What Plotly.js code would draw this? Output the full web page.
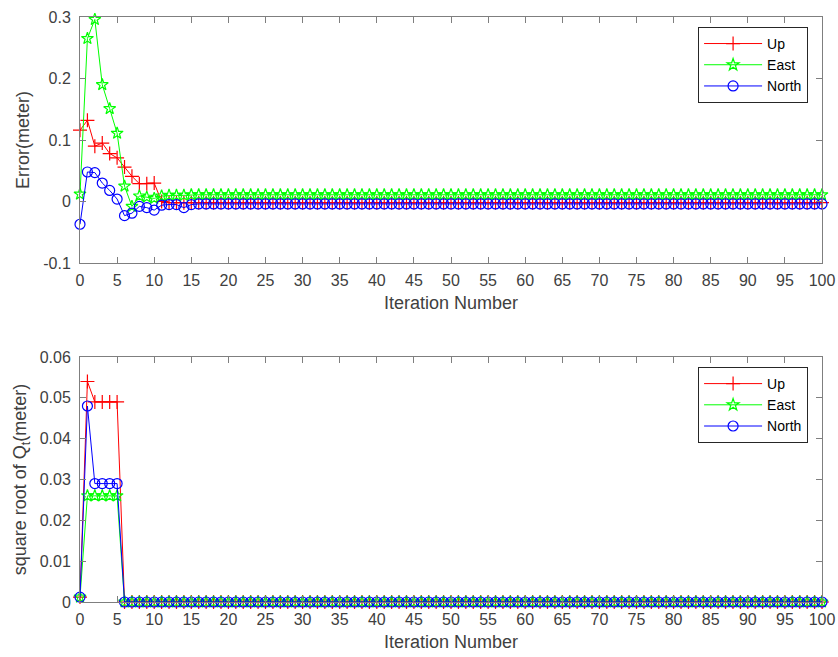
<!DOCTYPE html>
<html>
<head>
<meta charset="utf-8">
<script src="https://cdn.plot.ly/plotly-3.0.1.min.js"></script>
<style>html,body{margin:0;padding:0;background:#fff;}#chart{width:838px;height:657px;}</style>
</head>
<body>
<div id="chart"></div>
<script>
// Iteration numbers 0..100
var iterations = [0,1,2,3,4,5,6,7,8,9,10,11,12,13,14,15,16,17,18,19,20,21,22,23,24,25,26,27,28,29,30,31,32,33,34,35,36,37,38,39,40,41,42,43,44,45,46,47,48,49,50,51,52,53,54,55,56,57,58,59,60,61,62,63,64,65,66,67,68,69,70,71,72,73,74,75,76,77,78,79,80,81,82,83,84,85,86,87,88,89,90,91,92,93,94,95,96,97,98,99,100];

// Top panel: Error (meter)
var errUp = [0.116,0.132,0.090,0.095,0.078,0.071,0.056,0.041,0.029,0.029,0.030,0.000,-0.002,-0.002,-0.002,-0.002,-0.002,-0.002,-0.002,-0.002,-0.002,-0.002,-0.002,-0.002,-0.002,-0.002,-0.002,-0.002,-0.002,-0.002,-0.002,-0.002,-0.002,-0.002,-0.002,-0.002,-0.002,-0.002,-0.002,-0.002,-0.002,-0.002,-0.002,-0.002,-0.002,-0.002,-0.002,-0.002,-0.002,-0.002,-0.002,-0.002,-0.002,-0.002,-0.002,-0.002,-0.002,-0.002,-0.002,-0.002,-0.002,-0.002,-0.002,-0.002,-0.002,-0.002,-0.002,-0.002,-0.002,-0.002,-0.002,-0.002,-0.002,-0.002,-0.002,-0.002,-0.002,-0.002,-0.002,-0.002,-0.002,-0.002,-0.002,-0.002,-0.002,-0.002,-0.002,-0.002,-0.002,-0.002,-0.002,-0.002,-0.002,-0.002,-0.002,-0.002,-0.002,-0.002,-0.002,-0.002,-0.002];
var errEast = [0.012,0.265,0.296,0.190,0.151,0.111,0.025,-0.008,0.009,0.007,0.005,0.009,0.010,0.010,0.010,0.011,0.011,0.011,0.011,0.011,0.011,0.011,0.011,0.011,0.011,0.011,0.011,0.011,0.011,0.011,0.011,0.011,0.011,0.011,0.011,0.011,0.011,0.011,0.011,0.011,0.011,0.011,0.011,0.011,0.011,0.011,0.011,0.011,0.011,0.011,0.011,0.011,0.011,0.011,0.011,0.011,0.011,0.011,0.011,0.011,0.011,0.011,0.011,0.011,0.011,0.011,0.011,0.011,0.011,0.011,0.011,0.011,0.011,0.011,0.011,0.011,0.011,0.011,0.011,0.011,0.011,0.011,0.011,0.011,0.011,0.011,0.011,0.011,0.011,0.011,0.011,0.011,0.011,0.011,0.011,0.011,0.011,0.011,0.011,0.011,0.011];
var errNorth = [-0.037,0.048,0.047,0.030,0.018,0.004,-0.023,-0.019,-0.008,-0.010,-0.014,-0.006,-0.005,-0.005,-0.010,-0.005,-0.004,-0.004,-0.004,-0.004,-0.004,-0.004,-0.004,-0.004,-0.004,-0.004,-0.004,-0.004,-0.004,-0.004,-0.004,-0.004,-0.004,-0.004,-0.004,-0.004,-0.004,-0.004,-0.004,-0.004,-0.004,-0.004,-0.004,-0.004,-0.004,-0.004,-0.004,-0.004,-0.004,-0.004,-0.004,-0.004,-0.004,-0.004,-0.004,-0.004,-0.004,-0.004,-0.004,-0.004,-0.004,-0.004,-0.004,-0.004,-0.004,-0.004,-0.004,-0.004,-0.004,-0.004,-0.004,-0.004,-0.004,-0.004,-0.004,-0.004,-0.004,-0.004,-0.004,-0.004,-0.004,-0.004,-0.004,-0.004,-0.004,-0.004,-0.004,-0.004,-0.004,-0.004,-0.004,-0.004,-0.004,-0.004,-0.004,-0.004,-0.004,-0.004,-0.004,-0.004,-0.004];

// Bottom panel: square root of Q_t (meter)
var qUp = [0.0012,0.054,0.049,0.049,0.049,0.049,0,0,0,0,0,0,0,0,0,0,0,0,0,0,0,0,0,0,0,0,0,0,0,0,0,0,0,0,0,0,0,0,0,0,0,0,0,0,0,0,0,0,0,0,0,0,0,0,0,0,0,0,0,0,0,0,0,0,0,0,0,0,0,0,0,0,0,0,0,0,0,0,0,0,0,0,0,0,0,0,0,0,0,0,0,0,0,0,0,0,0,0,0,0,0];
var qEast = [0.0012,0.026,0.026,0.026,0.026,0.026,0,0,0,0,0,0,0,0,0,0,0,0,0,0,0,0,0,0,0,0,0,0,0,0,0,0,0,0,0,0,0,0,0,0,0,0,0,0,0,0,0,0,0,0,0,0,0,0,0,0,0,0,0,0,0,0,0,0,0,0,0,0,0,0,0,0,0,0,0,0,0,0,0,0,0,0,0,0,0,0,0,0,0,0,0,0,0,0,0,0,0,0,0,0,0];
var qNorth = [0.0012,0.048,0.029,0.029,0.029,0.029,0,0,0,0,0,0,0,0,0,0,0,0,0,0,0,0,0,0,0,0,0,0,0,0,0,0,0,0,0,0,0,0,0,0,0,0,0,0,0,0,0,0,0,0,0,0,0,0,0,0,0,0,0,0,0,0,0,0,0,0,0,0,0,0,0,0,0,0,0,0,0,0,0,0,0,0,0,0,0,0,0,0,0,0,0,0,0,0,0,0,0,0,0,0,0];

var seriesNames = ['Up','East','North'];
var xTicks = [0,5,10,15,20,25,30,35,40,45,50,55,60,65,70,75,80,85,90,95,100];
var yTopTicks = [-0.1,0,0.1,0.2,0.3];
var yTopLabels = ['-0.1','0','0.1','0.2','0.3'];
var yBotTicks = [0,0.01,0.02,0.03,0.04,0.05,0.06];
var yBotLabels = ['0','0.01','0.02','0.03','0.04','0.05','0.06'];

var colors = ['#ff0000','#00ff00','#0000ff'];
var symbols = ['cross-thin-open','star-open','circle-open'];
var msizes = [10,9,10];

function mk(y, i, xa, ya, leg) {
  return {
    x: iterations, y: y, name: seriesNames[i], type: 'scatter', mode: 'lines+markers',
    xaxis: xa, yaxis: ya, legend: leg, cliponaxis: false,
    line: {color: colors[i], width: 1},
    marker: {symbol: symbols[i], size: msizes[i], color: colors[i], line: {color: colors[i], width: 1.2}}
  };
}

var data = [
  mk(errUp,0,'x','y','legend'), mk(errEast,1,'x','y','legend'), mk(errNorth,2,'x','y','legend'),
  mk(qUp,0,'x2','y2','legend2'), mk(qEast,1,'x2','y2','legend2'), mk(qNorth,2,'x2','y2','legend2')
];

function xax(anchor) {
  return {
    anchor: anchor, domain: [0,1], range: [0,100], tickvals: xTicks, ticktext: xTicks.map(String),
    showline: true, linecolor: '#7f7f7f', linewidth: 1, mirror: 'ticks', ticks: 'inside', ticklen: 6, tickcolor: '#7f7f7f',
    showgrid: false, zeroline: false, tickfont: {size: 16, color: '#404040'}, ticklabelstandoff: 3,
    title: {text: 'Iteration Number', font: {size: 18, color: '#404040'}, standoff: 8}
  };
}
function yax(anchor, domain, range, tv, tt, title) {
  return {
    anchor: anchor, domain: domain, range: range, tickvals: tv, ticktext: tt,
    showline: true, linecolor: '#7f7f7f', linewidth: 1, mirror: 'ticks', ticks: 'inside', ticklen: 6, tickcolor: '#7f7f7f',
    showgrid: false, zeroline: false, tickfont: {size: 16, color: '#404040'}, ticklabelstandoff: 5,
    title: {text: title, font: {size: 18, color: '#404040'}, standoff: 8}
  };
}

var layout = {
  width: 838, height: 657,
  margin: {l: 80, r: 16, t: 17, b: 55},
  paper_bgcolor: '#ffffff', plot_bgcolor: '#ffffff',
  font: {family: 'Liberation Sans, Arial, sans-serif', color: '#404040'},
  xaxis: xax('y'),
  yaxis: yax('x', [0.5795, 1], [-0.1, 0.3], yTopTicks, yTopLabels, 'Error(meter)'),
  xaxis2: xax('y2'),
  yaxis2: yax('x2', [0, 0.4188], [0, 0.06], yBotTicks, yBotLabels, 'square root of Q<sub>t</sub>(meter)'),
  legend: {x: 0.833, y: 0.983, xanchor: 'left', yanchor: 'top', bgcolor: '#ffffff', bordercolor: '#262626', borderwidth: 1,
           font: {size: 14, color: '#000000'}, tracegroupgap: 0, itemwidth: 58},
  legend2: {x: 0.833, y: 0.4017, xanchor: 'left', yanchor: 'top', bgcolor: '#ffffff', bordercolor: '#262626', borderwidth: 1,
           font: {size: 14, color: '#000000'}, tracegroupgap: 0, itemwidth: 58},
  showlegend: true
};

Plotly.newPlot('chart', data, layout, {displayModeBar: false, staticPlot: true});
</script>
</body>
</html>
